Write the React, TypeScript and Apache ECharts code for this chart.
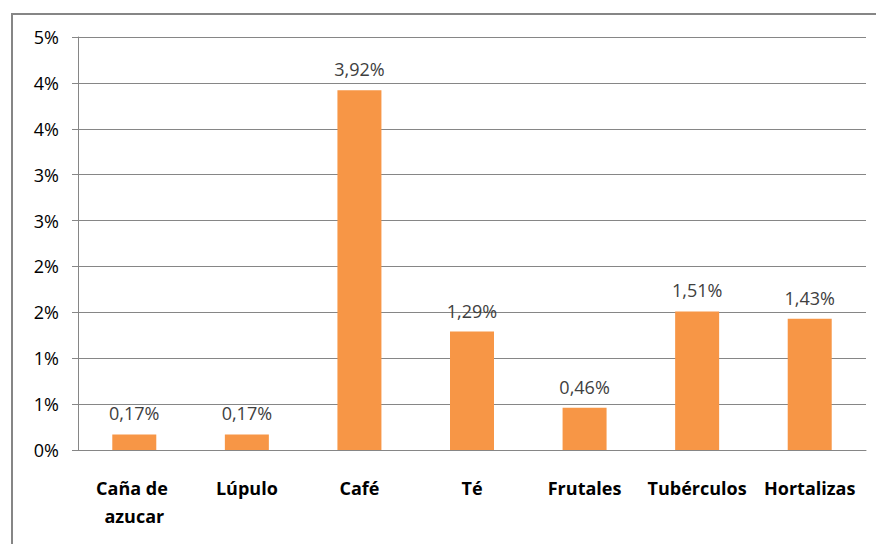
import React, { useEffect, useRef } from "react";
import * as echarts from "echarts";

// Share of each crop, in percent
const categories = ["Caña de azucar", "Lúpulo", "Café", "Té", "Frutales", "Tubérculos", "Hortalizas"];
const shares = [0.17, 0.17, 3.92, 1.29, 0.46, 1.51, 1.43];

// Value axis range, in percent
const axisMin = 0;
const axisMax = 4.5;
const axisStep = 0.5;

const FONT = "'Open Sans', 'Noto Sans', sans-serif";

export default function App() {
  const ref = useRef<HTMLDivElement>(null);

  useEffect(() => {
    if (!ref.current) return;
    const chart = echarts.init(ref.current, null, { renderer: "svg" });
    chart.setOption({
      animation: false,
      backgroundColor: "#ffffff",
      textStyle: { fontFamily: FONT },
      graphic: [
        {
          type: "rect",
          shape: { x: 12, y: 14, width: 900, height: 600 },
          style: { fill: "none", stroke: "#868686", lineWidth: 2 },
          silent: true,
        },
      ],
      grid: { left: 78, right: 10, top: 37, bottom: 94, containLabel: false },
      xAxis: {
        type: "category",
        data: categories,
        axisLine: { show: true, lineStyle: { color: "#868686", width: 1 } },
        axisTick: { show: false },
        axisLabel: {
          interval: 0,
          margin: 24,
          color: "#000000",
          fontFamily: FONT,
          fontWeight: "bold",
          fontSize: 18,
          lineHeight: 28,
          width: 110,
          overflow: "break",
        },
      },
      yAxis: {
        type: "value",
        min: axisMin,
        max: axisMax,
        interval: axisStep,
        axisLine: { show: true, lineStyle: { color: "#868686", width: 1 } },
        axisTick: { show: true, length: 6, lineStyle: { color: "#868686" } },
        splitLine: { show: true, lineStyle: { color: "#868686", width: 1 } },
        axisLabel: {
          margin: 19,
          color: "#000000",
          fontFamily: FONT,
          fontSize: 18,
          formatter: (v: number) => `${Math.round(v)}%`,
        },
      },
      series: [
        {
          type: "bar",
          data: shares,
          barWidth: 44,
          itemStyle: { color: "#F79646" },
          label: {
            show: true,
            position: "top",
            distance: 12,
            color: "#404040",
            fontFamily: FONT,
            fontSize: 18,
            formatter: (p: any) => `${Number(p.value).toFixed(2).replace(".", ",")}%`,
          },
        },
      ],
    });
    return () => chart.dispose();
  }, []);

  return (
    <div
      ref={ref}
      style={{ position: "absolute", left: 0, top: 0, width: 876, height: 544 }}
    />
  );
}
